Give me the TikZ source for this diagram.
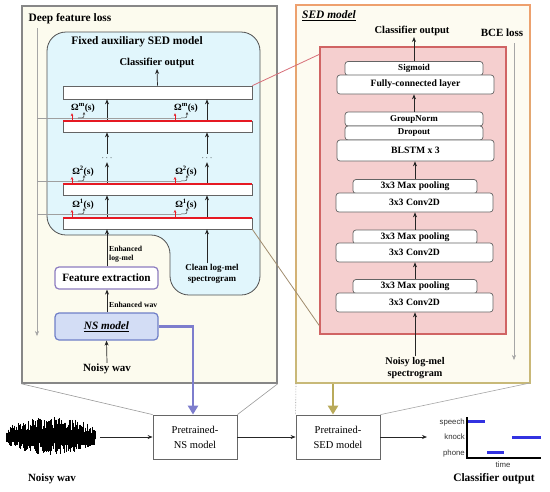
\documentclass[tikz,border=0pt]{standalone}
\usepackage{fontspec}
\setmainfont{Liberation Serif}
\newfontfamily\plotfont{Liberation Sans}
\usetikzlibrary{arrows.meta,calc}
\definecolor{leftfill}{RGB}{252,251,238}
\definecolor{rightfill}{RGB}{253,251,241}
\definecolor{panelgray}{RGB}{135,135,135}
\definecolor{bluefill}{RGB}{225,246,252}
\definecolor{blueedge}{RGB}{80,80,80}
\definecolor{laygray}{RGB}{100,100,100}
\definecolor{redline}{RGB}{230,25,35}
\definecolor{purp}{RGB}{140,124,192}
\definecolor{nsfill}{RGB}{211,221,245}
\definecolor{nsedge}{RGB}{111,127,199}
\definecolor{pinkfill}{RGB}{245,207,207}
\definecolor{pinkedge}{RGB}{208,100,100}
\definecolor{bluearrow}{RGB}{125,125,205}
\definecolor{olivearrow}{RGB}{185,170,90}
\definecolor{orangeedge}{RGB}{238,160,110}
\definecolor{oliveedge}{RGB}{200,185,120}
\definecolor{pinkconn}{RGB}{215,110,120}
\definecolor{brownconn}{RGB}{160,140,110}
\definecolor{plotblue}{RGB}{50,50,225}
\begin{document}
\begin{tikzpicture}[x=1pt,y=-1pt,
  arr/.style={-{Stealth[length=5pt,width=4pt]}, line width=0.7pt, draw=black!85},
  redarr/.style={-{Stealth[length=3pt,width=2.6pt]}, line width=0.8pt, draw=redline},
  hookarr/.style={-{Stealth[length=3pt,width=2.4pt]}, line width=0.5pt, draw=black!75},
  gline/.style={line width=0.5pt, draw=gray!75},
  vline/.style={line width=0.45pt, draw=gray!70, -{Stealth[length=5pt,width=4pt]}},
  lay/.style={draw=laygray, fill=white, line width=0.7pt, inner sep=0pt, minimum width=189pt},
  rlay/.style={draw=laygray, fill=white, line width=0.7pt, inner sep=0pt, rounded corners=3pt, font=\fontsize{9.7}{10}\selectfont\bfseries},
  rsm/.style={font=\fontsize{9}{10}\selectfont\bfseries},
  head/.style={font=\fontsize{11.4}{13}\selectfont\bfseries, inner sep=1pt},
  lbl/.style={font=\fontsize{10.5}{12}\selectfont\bfseries, inner sep=1pt},
  small/.style={font=\fontsize{7.7}{9.3}\selectfont\bfseries, inner sep=1pt},
  omg/.style={font=\fontsize{9.5}{10}\selectfont\bfseries, inner sep=0.5pt},
  bbox/.style={draw=black!60, fill=white, line width=0.8pt, minimum width=84pt, minimum height=44pt, inner sep=0pt, align=center, font=\fontsize{10.5}{15}\selectfont},
  plotlab/.style={font=\plotfont\fontsize{7.8}{8}\selectfont, text=black!80, inner sep=1pt},
  bar/.style={line width=3pt, draw=plotblue}
]
\useasboundingbox (0,0) rectangle (550,491);

% ---------- panels ----------
\node[draw=panelgray, fill=leftfill, line width=1.5pt, minimum width=255pt, minimum height=377pt, inner sep=0pt] (lp) at (149.5,194.5) {};
\node[fill=rightfill, minimum width=234pt, minimum height=378pt, inner sep=0pt] (rp) at (413,194) {};
\shade[top color=orangeedge, bottom color=oliveedge] (295.4,4.4) rectangle (296.6,383.6);
\shade[top color=orangeedge, bottom color=oliveedge] (529.4,4.4) rectangle (530.6,383.6);
\fill[orangeedge] (295.4,4.4) rectangle (530.6,5.6);
\fill[oliveedge] (295.4,382.4) rectangle (530.6,383.6);

% ---------- left panel ----------
\node[head] (dfl) at (70,19) {Deep feature loss};
\coordinate (dl0) at (37,28);
\coordinate (dl1) at (37,336);
\draw[vline] (dl0) -- (dl1);

\draw[fill=bluefill, draw=blueedge, line width=0.8pt, rounded corners=19pt]
  (150,32) -- (260,32) -- (260,295) -- (170,295) -- (170,235) -- (47,235) -- (47,32) -- cycle;

\node[head] (fas) at (137,42) {Fixed auxiliary SED model};
\node[lbl] (co1) at (157,63) {Classifier output};

\node[lay, minimum height=13pt] (out) at (157.5,92.5) {};
\node[lay, minimum height=11pt] (Lm) at (157.5,126.5) {};
\node[lay, minimum height=11pt] (Lb) at (157.5,189.5) {};
\node[lay, minimum height=11pt] (La) at (157.5,223.5) {};

\coordinate (cA) at (107,0);
\coordinate (cB) at (207,0);
\node[font=\fontsize{9}{9}\selectfont, inner sep=2pt] (dA) at (107,158) {$\cdots$};
\node[font=\fontsize{9}{9}\selectfont, inner sep=2pt] (dB) at (207,158) {$\cdots$};

\draw[arr] (out.north) -- (co1.south);
\foreach \c/\d in {cA/dA,cB/dB}{
  \draw[arr] (\c |- Lm.north) -- (\c |- out.south);
  \draw[arr] (\d.north) -- (\c |- Lm.south);
  \draw[arr] (\c |- Lb.north) -- (\d.south);
  \draw[arr] (\c |- La.north) -- (\c |- Lb.south);
}

% deep feature taps
\coordinate (xr1) at (72,0);
\coordinate (xr2) at (175,0);
\foreach \nm/\sx/\gy/\ly in {m/m/118/108, b/2/181/171, a/1/214/204}{
  \node[omg] (om\nm L) at (83,\ly) {Ω\textsuperscript{\sx}(s)};
  \node[omg] (om\nm R) at (186,\ly) {Ω\textsuperscript{\sx}(s)};
  \coordinate (g\nm0) at (37,\gy);
  \coordinate (g\nm1) at (181,\gy);
  \draw[gline] (g\nm0) -- (g\nm1);
  \draw[hookarr] (g\nm1) .. controls (187,\gy) .. (187,\gy-6);
  \draw[hookarr] (78,\gy) .. controls (84,\gy) .. (84,\gy-6);
  \draw[redarr] (72,\gy+3) -- (xr1 |- om\nm L.south);
  \draw[redarr] (175,\gy+3) -- (xr2 |- om\nm R.south);
}

\node[small, anchor=west, align=left] (elm) at (108,254.5) {Enhanced\\log-mel};
\node[lbl, align=center, font=\fontsize{9}{10.5}\selectfont\bfseries] (clean) at (212,274) {Clean log-mel\\spectrogram};

\node[draw=purp, fill=white, rounded corners=4pt, line width=1.2pt, minimum width=103pt, minimum height=22pt, inner sep=0pt, font=\fontsize{11.2}{13}\selectfont\bfseries] (fe) at (106.5,278) {Feature extraction};
\node[small, anchor=west] (ew) at (108,305) {Enhanced wav};
\node[draw=nsedge, fill=nsfill, rounded corners=4pt, line width=1.2pt, minimum width=103pt, minimum height=27pt, inner sep=0pt, font=\fontsize{11.2}{13}\selectfont\bfseries] (ns) at (106.5,326.5) {\underline{\textit{NS model}}};
\node[font=\fontsize{11}{12}\selectfont\bfseries, inner sep=1pt] (nw1) at (107,369) {Noisy wav};

\draw[arr] (fe.north -| cA) -- (La.south -| cA);
\draw[arr] (clean.north -| cB) -- (La.south -| cB);
\draw[arr] (ns.north -| cA) -- (fe.south -| cA);
\draw[arr] (nw1.north) -- (ns.south);

% ---------- right panel ----------
\node[head] (sedt) at (329,16) {\underline{\textit{SED model}}};
\node[lbl] (co2) at (412,31) {Classifier output};
\node[lbl, font=\fontsize{11}{12}\selectfont\bfseries] (bce) at (502,33) {BCE loss};
\coordinate (b0) at (514,43);
\coordinate (b1) at (514,360);
\draw[vline] (b0) -- (b1);

\node[draw=pinkedge, fill=pinkfill, line width=1.3pt, minimum width=186pt, minimum height=287pt, inner sep=0pt] (pk) at (413,190.5) {};

\node[rlay, rsm, minimum width=138pt, minimum height=14pt] (sig) at (414,68.5) {Sigmoid};
\node[rlay, minimum width=157pt, minimum height=19pt] (fc) at (415.5,84.5) {Fully-connected layer};
\node[rlay, rsm, minimum width=138pt, minimum height=14pt] (gn) at (414,119) {GroupNorm};
\node[rlay, rsm, minimum width=138pt, minimum height=14pt] (dr) at (414,133) {Dropout};
\node[rlay, minimum width=157pt, minimum height=21pt] (bl) at (415.5,150.5) {BLSTM x 3};
\node[rlay, minimum width=124pt, minimum height=14pt] (mp1) at (415,186.5) {3x3 Max pooling};
\node[rlay, minimum width=157pt, minimum height=19pt] (cv1) at (414.5,202.5) {3x3 Conv2D};
\node[rlay, minimum width=124pt, minimum height=14pt] (mp2) at (415,237) {3x3 Max pooling};
\node[rlay, minimum width=157pt, minimum height=19pt] (cv2) at (414.5,252.5) {3x3 Conv2D};
\node[rlay, minimum width=124pt, minimum height=14pt] (mp3) at (415,286.5) {3x3 Max pooling};
\node[rlay, minimum width=157pt, minimum height=19pt] (cv3) at (414.5,302.5) {3x3 Conv2D};
\node[lbl, align=center, font=\fontsize{10.2}{11.5}\selectfont\bfseries] (nlm) at (415,368) {Noisy log-mel\\spectrogram};

\draw[arr] (sig.north) -- (co2.south -| sig.north);
\draw[arr] (gn.north) -- (fc.south -| gn.north);
\draw[arr] (mp1.north) -- (bl.south -| mp1.north);
\draw[arr] (mp2.north) -- (cv1.south -| mp2.north);
\draw[arr] (mp3.north) -- (cv2.south -| mp3.north);
\draw[arr] (nlm.north) -- (cv3.south -| nlm.north);

% zoom connectors
\draw[pinkconn, line width=0.8pt] (out.north east) -- ($(pk.north west)+(0,8)$);
\draw[brownconn, line width=0.8pt] (La.south east) -- ($(pk.south west)+(0,-9)$);

% ---------- bottom pipeline ----------
\node[bbox] (pns) at (195,437) {Pretrained-\\NS model};
\node[bbox] (psed) at (338,437) {Pretrained-\\SED model};

\draw[gray!80, line width=0.6pt] (lp.south west) -- (pns.north west);
\draw[gray!80, line width=0.6pt] (lp.south east) -- (pns.north east);
\draw[gray!80, line width=0.6pt, densely dotted] (296,383) -- (psed.north west);
\draw[gray!70, line width=0.6pt] (530,383) -- (psed.north east);

\coordinate (bturn) at (193,326.5);
\draw[bluearrow, line width=2.5pt, -{Triangle[length=9pt,width=10pt]}] (ns.east) -- (bturn) -- (bturn |- pns.north);
\coordinate (oa) at (333,384);
\draw[olivearrow, line width=2.5pt, -{Triangle[length=9pt,width=10pt]}] (oa) -- (oa |- psed.north);

% waveform
\pgfmathsetseed{11}
\fill[black] (6,437) .. controls (20,430) and (80,429) .. (95,434) -- (95,440) .. controls (80,445) and (20,444) .. (6,437) -- cycle;
\foreach \i in {0,...,179}{
  \pgfmathsetmacro\xx{6+\i*0.5}
  \pgfmathsetmacro\env{0.3+0.7*sqrt(abs(sin(\i*1.0056)))}
  \pgfmathsetmacro\h{(5+15*rnd)*\env}
  \pgfmathsetmacro\hh{(5+13*rnd)*\env}
  \draw[black, line width=0.45pt] (\xx,437-\h) -- (\xx,437+\hh);
}
\coordinate (wv) at (100,437);
\node[font=\fontsize{11}{12}\selectfont\bfseries, inner sep=1pt] (nw2) at (52,479) {Noisy wav};

\draw[arr] (wv) -- (pns.west);
\draw[arr] (pns.east) -- (psed.west);
\coordinate (po) at (427,437);
\draw[arr] (psed.east) -- (po);

% output plot
\coordinate (ax0) at (467,458);
\coordinate (axy) at (467,417);
\coordinate (axx) at (541,458);
\draw[black, line width=1.2pt] (axy) -- (ax0) -- (axx);
\node[plotlab, anchor=east] (lsp) at (466,422) {speech};
\node[plotlab, anchor=east] (lkn) at (466,437) {knock};
\node[plotlab, anchor=east] (lph) at (466,453) {phone};
\node[plotlab] (ltm) at (503,465) {time};
\draw[bar] (468,421) -- (485,421);
\draw[bar] (512,437) -- (541,437);
\draw[bar] (487,452) -- (504,452);
\node[font=\fontsize{11.4}{13}\selectfont\bfseries, inner sep=1pt] (co3) at (494,479) {Classifier output};

% red feature-tap lines on the layer tops (drawn last)
\fill[redline] ($(Lm.north west)+(0,-1)$) rectangle ($(Lm.north east)+(0,1)$);
\fill[redline] ($(Lb.north west)+(0,-1)$) rectangle ($(Lb.north east)+(0,1)$);
\fill[redline] ($(La.north west)+(0,-1)$) rectangle ($(La.north east)+(0,1)$);
\end{tikzpicture}
\end{document}
